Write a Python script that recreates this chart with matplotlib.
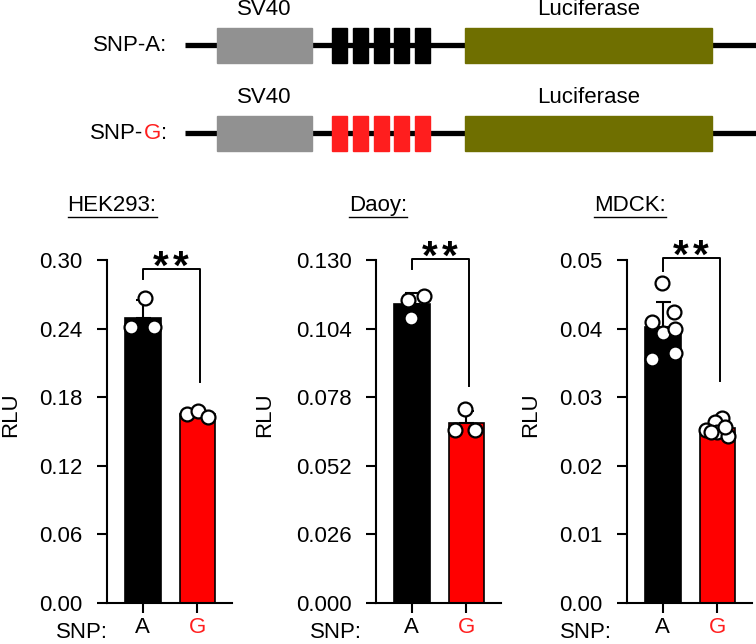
import numpy as np
import matplotlib
matplotlib.use('Agg')
import matplotlib.pyplot as plt
from matplotlib.patches import Rectangle

plt.rcParams['font.family'] = ['Liberation Sans', 'DejaVu Sans']
plt.rcParams['font.size'] = 16

# ---- data ----
cell_lines = ['HEK293:', 'Daoy:', 'MDCK:']
snp_labels = ['A', 'G']

hek_a = [0.267, 0.241, 0.241]
hek_g = [0.165, 0.168, 0.163]
daoy_a = [0.1164, 0.1149, 0.1082]
daoy_g = [0.0734, 0.0654, 0.0654]
mdck_a = [0.0467, 0.0410, 0.0424, 0.0393, 0.0400, 0.0356, 0.0364]
mdck_g = [0.0270, 0.0264, 0.0252, 0.0249, 0.0244, 0.0250, 0.0256]

y_ticks = [
    [0.00, 0.06, 0.12, 0.18, 0.24, 0.30],
    [0.000, 0.026, 0.052, 0.078, 0.104, 0.130],
    [0.00, 0.01, 0.02, 0.03, 0.04, 0.05],
]
y_fmt = ['%.2f', '%.3f', '%.2f']

# significance bracket: (top, left foot, right foot)
brackets = [(0.292, 0.283, 0.193), (0.1304, 0.1266, 0.0821), (0.0503, 0.0484, 0.0324)]
n_stars = 2

# ---- layout (pixels) ----
W, H = 756, 644
panel_left = [107, 376, 627]
panel_w = 125
panel_top, panel_bot = 260, 603
title_x = [112, 378, 630]
ylabel_x = [11, 265, 531]
snp_right = [108, 362, 612]

# point x-jitter (layout only)
jitter = [
    ([0.03, -0.21, 0.21], [-0.18, 0.02, 0.2]),
    ([0.22, -0.08, -0.02], [-0.03, -0.2, 0.17]),
    ([-0.02, -0.2, 0.2, 0.0, 0.22, -0.2, 0.22], [0.08, -0.05, -0.2, 0.0, 0.2, -0.12, 0.15]),
]

samples = [(hek_a, hek_g), (daoy_a, daoy_g), (mdck_a, mdck_g)]
bar_colors = ['black', '#ff0000']

fig = plt.figure(figsize=(W / 100, H / 100), dpi=100)

# overlay axes in pixel units for schematic and free text
ov = fig.add_axes([0, 0, 1, 1])
ov.set_xlim(0, W)
ov.set_ylim(H, 0)
ov.axis('off')

# ---- construct schematic ----
row_y = [45, 133]
box_h = 35
block_colors = ['black', '#ff1e1e']
sv40 = (217, 312)
luc = (465, 712)
block_start, block_w, block_pitch, n_blocks = 332, 15, 20.8, 5

renderer = fig.canvas.get_renderer()


def text_parts(x_right, y, parts):
    ts = [ov.text(0, y, s, color=c, ha='left', va='center') for s, c in parts]
    widths = [t.get_window_extent(renderer).width for t in ts]
    x = x_right - sum(widths)
    for t, w in zip(ts, widths):
        t.set_x(x)
        x += w


for i, yc in enumerate(row_y):
    ov.plot([185, W], [yc, yc], color='black', lw=3.8, solid_capstyle='butt', zorder=1)
    ov.add_patch(Rectangle((sv40[0], yc - box_h / 2), sv40[1] - sv40[0], box_h,
                           color='#919191', zorder=2))
    ov.add_patch(Rectangle((luc[0], yc - box_h / 2), luc[1] - luc[0], box_h,
                           color='#6f6f00', zorder=2))
    for k in range(n_blocks):
        ov.add_patch(Rectangle((block_start + k * block_pitch, yc - box_h / 2), block_w, box_h,
                               color=block_colors[i], zorder=2))
    ov.text(sum(sv40) / 2, yc - 36, 'SV40', ha='center', va='center')
    ov.text(sum(luc) / 2, yc - 36, 'Luciferase', ha='center', va='center')

text_parts(167, row_y[0], [('SNP-A:', 'black')])
text_parts(167, row_y[1], [('SNP-', 'black'), ('G', '#ff1e1e'), (':', 'black')])

# ---- bar panels ----
for p in range(3):
    ax = fig.add_axes([panel_left[p] / W, (H - panel_bot) / H, panel_w / W,
                       (panel_bot - panel_top) / H])
    ax.set_xlim(-0.66, 1.64)
    ax.set_ylim(0, y_ticks[p][-1])
    for j, vals in enumerate(samples[p]):
        m = np.mean(vals)
        sd = np.std(vals, ddof=1)
        ax.bar(j, m, width=0.65, color=bar_colors[j], edgecolor='black', linewidth=1.2, zorder=2)
        ax.errorbar(j, m, yerr=[[0], [sd]], fmt='none', ecolor='black', elinewidth=1.5,
                    capsize=5.4, capthick=1.5, zorder=3)
        ax.plot(j + np.array(jitter[p][j]), vals, 'o', ms=10, mfc='white', mec='black',
                mew=1.6, zorder=4, clip_on=False)
    top, lf, rf = brackets[p]
    ax.plot([0, 0, 1.05, 1.05], [lf, top, top, rf], color='black', lw=1.4, clip_on=False)
    for k in range(n_stars):
        dx = (k - (n_stars - 1) / 2) * 14.5
        ax.annotate('*', xy=(0.52, top), xytext=(dx, -7), textcoords='offset points',
                    ha='center', va='baseline', fontsize=29, fontweight='bold',
                    annotation_clip=False)

    ax.set_xticks([0, 1])
    ax.set_xticklabels(snp_labels)
    ax.get_xticklabels()[1].set_color('#ff1e1e')
    ax.set_yticks(y_ticks[p])
    ax.set_yticklabels([y_fmt[p] % v for v in y_ticks[p]])
    for s in ['top', 'right']:
        ax.spines[s].set_visible(False)
    for s in ['left', 'bottom']:
        ax.spines[s].set_linewidth(1.5)
    ax.tick_params(axis='both', direction='out', length=7.5, width=1.5, labelsize=16)
    ax.tick_params(axis='y', pad=10)
    ax.tick_params(axis='x', pad=2.5)

    # free texts around panel
    ov.text(title_x[p], 205, cell_lines[p], ha='center', va='center')
    t = ov.texts[-1]
    bb = t.get_window_extent(renderer)
    ov.plot([bb.x0, bb.x1], [217, 217], color='black', lw=1.0)
    ov.text(ylabel_x[p], 415, 'RLU', rotation=90, ha='center', va='center')
    ov.text(snp_right[p], 633, 'SNP:', ha='right', va='center')

fig.savefig('out.png', dpi=100)
